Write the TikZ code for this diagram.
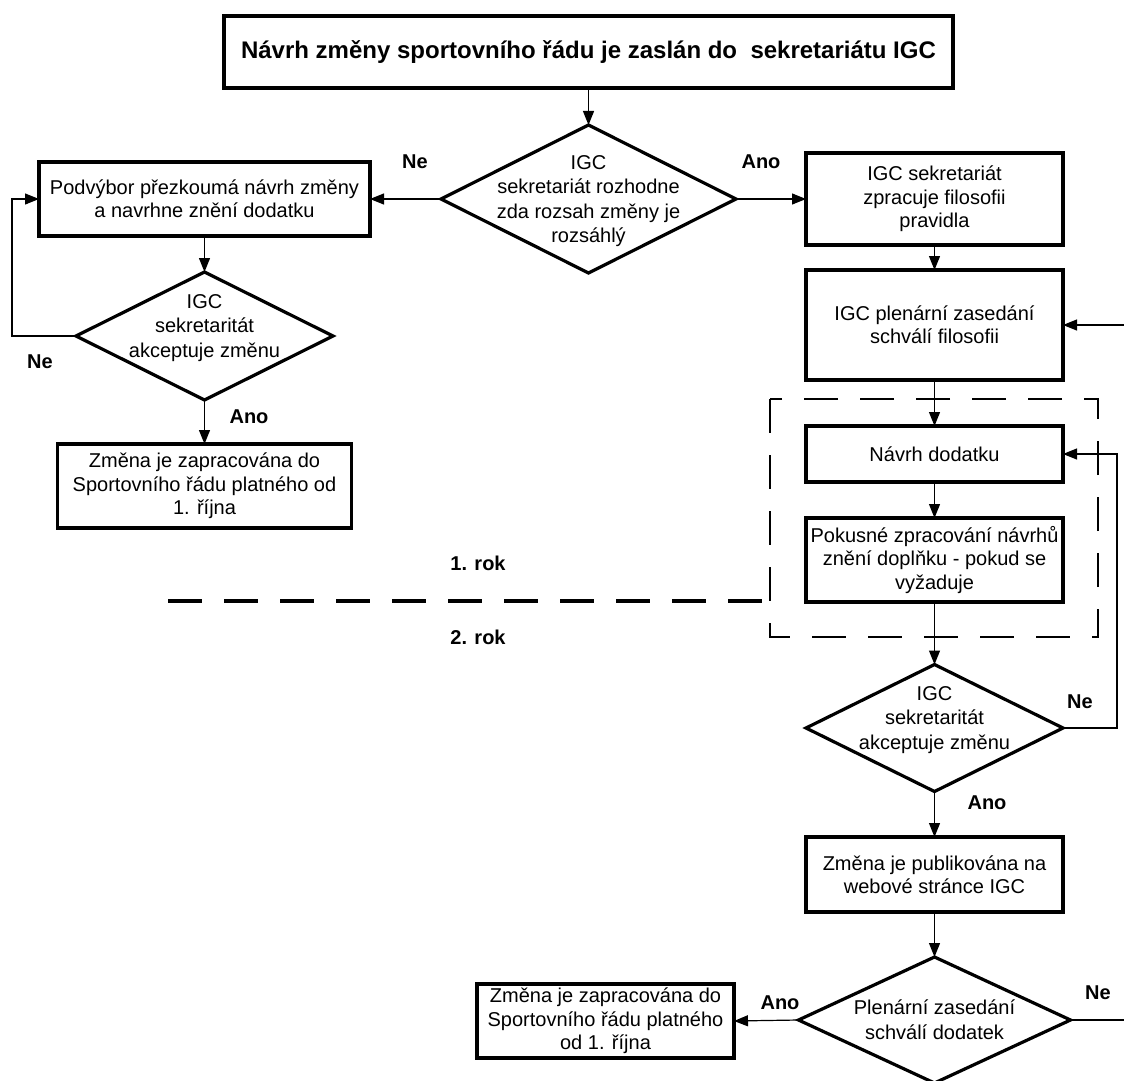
\documentclass[tikz,border=0pt]{standalone}
\usepackage{fontspec}
\setmainfont{Liberation Sans}
\usetikzlibrary{shapes.geometric,arrows.meta}

% text inside a diamond, kept out of the shape size
\newcommand{\dlines}[2][-3.5pt]{\smash{\makebox[0pt]{\raisebox{#1}{\renewcommand{\arraystretch}{1.04}\begin{tabular}{@{}c@{}}#2\end{tabular}}}}}

\begin{document}
\begin{tikzpicture}[x=0.5pt,y=-0.5pt,
  every node/.style={font=\fontsize{10}{11.7}\selectfont},
  box/.style={draw, rectangle, line width=1.6pt, inner sep=0pt, outer sep=0pt, align=center},
  decision/.style={draw, diamond, line width=1.6pt, inner sep=0pt, outer sep=0pt},
  conn/.style={line width=0.6pt, -{Triangle[length=7pt,width=5.5pt]}},
  yesno/.style={font=\fontsize{10}{12}\selectfont\bfseries},
  yearline/.style={line width=2pt, dash pattern=on 17pt off 11pt},
  rectline/.style={line width=1.3pt, dash pattern=on 17pt off 11pt}]

\useasboundingbox (0,0) rectangle (1124,1081);

\node[box, minimum width=364.5pt, minimum height=36pt, font=\fontsize{12}{14}\selectfont\bfseries] (title) at (588.5,52) {Návrh změny sportovního řádu je zaslán do\ \ sekretariátu IGC};

\node[decision, minimum width=147.5pt, minimum height=74pt] (d1) at (588.5,199) {\dlines{IGC\\sekretariát rozhodne\\zda rozsah změny je\\rozsáhlý}};

% left branch
\node[box, minimum width=165.5pt, minimum height=37pt] (pod) at (204.5,199) {Podvýbor přezkoumá návrh změny\\a navrhne znění dodatku};
\node[decision, minimum width=128.5pt, minimum height=64pt] (dl) at (204.5,336) {\dlines[1.5pt]{IGC\\sekretaritát\\akceptuje změnu}};
\node[box, minimum width=147pt, minimum height=42pt] (zl) at (204.5,486) {Změna je zapracována do\\Sportovního řádu platného od\\1. října};

% right branch
\node[box, minimum width=128.5pt, minimum height=46pt] (fil) at (934.5,199) {IGC sekretariát\\zpracuje filosofii\\pravidla};
\node[box, minimum width=128.5pt, minimum height=55pt] (plen) at (934.5,325) {IGC plenární zasedání\\schválí filosofii};
\node[box, minimum width=128.5pt, minimum height=28pt] (navrh) at (934.5,454) {Návrh dodatku};
\node[box, minimum width=128.5pt, minimum height=42pt] (pokus) at (934.5,560) {Pokusné zpracování návrhů\\znění doplňku - pokud se\\vyžaduje};
\node[decision, minimum width=128.5pt, minimum height=63.5pt] (dr) at (934.5,728) {\dlines[1.5pt]{IGC\\sekretaritát\\akceptuje změnu}};
\node[box, minimum width=128.5pt, minimum height=37.5pt] (publ) at (934.5,874.5) {Změna je publikována na\\webové stránce IGC};
\node[decision, minimum width=136pt, minimum height=63pt] (dp) at (934.5,1020) {\dlines{Plenární zasedání\\schválí dodatek}};
\node[box, minimum width=128.5pt, minimum height=37pt] (zb) at (605.5,1021) {Změna je zapracována do\\Sportovního řádu platného\\od 1. října};

% year boundary
\draw[rectline] (770,399) rectangle (1098,637);
\draw[yearline] (168,601) -- (770,601);
\node[yesno] (rok1) at (478,563) {1. rok};
\node[yesno] (rok2) at (478,637) {2. rok};

% labels
\node[yesno] (ne1) at (415,162) {Ne};
\node[yesno] (ano1) at (761,162) {Ano};
\node[yesno] (ne2) at (40,362) {Ne};
\node[yesno] (ano2) at (249,417) {Ano};
\node[yesno] (ne3) at (1080,702) {Ne};
\node[yesno] (ano3) at (987,803) {Ano};
\node[yesno] (ne4) at (1098,993) {Ne};
\node[yesno] (ano4) at (780,1003) {Ano};

\coordinate (fbL) at (12,336);
\coordinate (fbR) at (1117,728);
\coordinate (inR) at (1124,325);
\coordinate (outR) at (1124,1020);

\draw[conn] (title.south) -- (d1.north);
\draw[conn] (d1.west) -- (pod.east);
\draw[conn] (d1.east) -- (fil.west);
\draw[conn] (pod.south) -- (dl.north);
\draw[conn] (dl.west) -- (fbL) |- (pod.west);
\draw[conn] (dl.south) -- (zl.north);
\draw[conn] (fil.south) -- (plen.north);
\draw[conn] (inR) -- (plen.east);
\draw[conn] (plen.south) -- (navrh.north);
\draw[conn] (navrh.south) -- (pokus.north);
\draw[conn] (pokus.south) -- (dr.north);
\draw[conn] (dr.east) -- (fbR) |- (navrh.east);
\draw[conn] (dr.south) -- (publ.north);
\draw[conn] (publ.south) -- (dp.north);
\draw[conn] (dp.west) -- (zb.east);
\draw[line width=0.6pt] (dp.east) -- (outR);

\end{tikzpicture}
\end{document}
